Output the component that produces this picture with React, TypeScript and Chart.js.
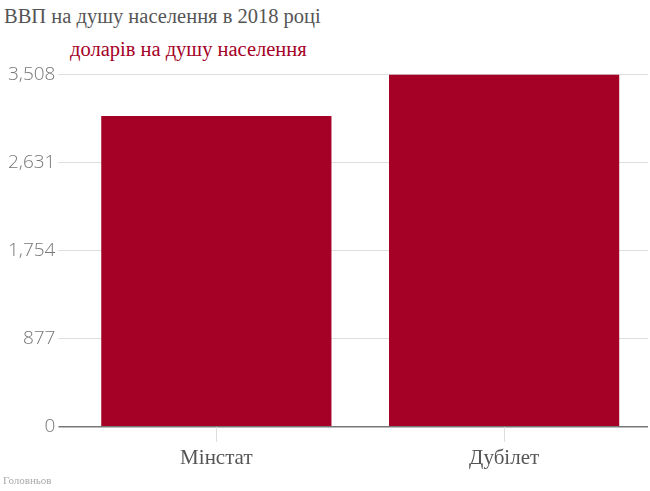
import { useRef, useEffect } from 'react';
import Chart from 'chart.js/auto';

const categories = ['Мінстат', 'Дубілет'];
const gdpPerCapita = [3095, 3508];
const yTicks = [0, 877, 1754, 2631, 3508];

const titleText = 'ВВП на душу населення в 2018 році';
const subtitleText = 'доларів на душу населення';
const sourceText = 'Головньов';

const serif = '"Times New Roman", "Liberation Serif", "DejaVu Serif", serif';

export default function App() {
    const chartRef = useRef<HTMLCanvasElement>(null);

    useEffect(() => {
        if (!chartRef.current) return;
        const chart = new Chart(chartRef.current, {
            type: 'bar',
            data: {
                labels: categories,
                datasets: [{
                    label: subtitleText,
                    data: gdpPerCapita,
                    backgroundColor: '#a50026',
                    borderWidth: 0,
                    barPercentage: 0.8,
                    categoryPercentage: 1,
                }]
            },
            options: {
                animation: false,
                responsive: false,
                layout: { padding: { top: 13, right: 2, left: 5, bottom: 0 } },
                plugins: {
                    legend: { display: false },
                    tooltip: { enabled: false },
                },
                scales: {
                    y: {
                        min: 0,
                        max: yTicks[yTicks.length - 1],
                        afterBuildTicks: (axis: any) => {
                            axis.ticks = yTicks.map(v => ({ value: v }));
                        },
                        border: { display: false },
                        grid: {
                            color: (ctx: any) => ctx.tick && ctx.tick.value === 0 ? '#777777' : '#dddddd',
                            lineWidth: (ctx: any) => ctx.tick && ctx.tick.value === 0 ? 1.5 : 1,
                            tickLength: 14,
                        },
                        ticks: {
                            color: '#777777',
                            padding: 3,
                            font: { family: '"Open Sans", sans-serif', size: 19, weight: 300 },
                            callback: (v: any) => Number(v).toLocaleString('en-US'),
                        },
                    },
                    x: {
                        border: { display: false },
                        grid: {
                            offset: false,
                            drawOnChartArea: false,
                            drawTicks: true,
                            tickLength: 15,
                            color: '#dddddd',
                        },
                        ticks: {
                            color: '#555555',
                            padding: 4,
                            font: { family: serif, size: 21 },
                        },
                    },
                },
            },
        } as any);
        return () => chart.destroy();
    }, []);

    return (
        <div style={{ position: 'absolute', left: 0, top: 0, width: 650, height: 491, background: '#fff', fontFamily: serif }}>
            <div style={{ position: 'absolute', left: 4, top: 5, fontSize: 20.5, color: '#555555', whiteSpace: 'nowrap' }}>{titleText}</div>
            <div style={{ position: 'absolute', left: 70, top: 38, fontSize: 20.5, color: '#a50026', whiteSpace: 'nowrap' }}>{subtitleText}</div>
            <canvas ref={chartRef} width={650} height={415} style={{ position: 'absolute', left: 0, top: 60 }}></canvas>
            <div style={{ position: 'absolute', left: 3, top: 474, fontSize: 11, color: '#aaaaaa', whiteSpace: 'nowrap' }}>{sourceText}</div>
        </div>
    );
}
